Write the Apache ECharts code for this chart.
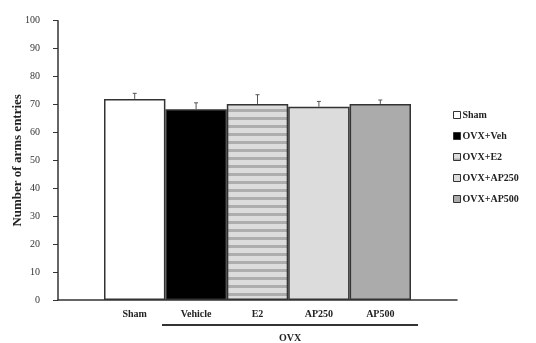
<!DOCTYPE html>
<html>
<head>
<meta charset="utf-8">
<script src="https://cdn.jsdelivr.net/npm/echarts@6/dist/echarts.min.js"></script>
<style>
  html, body { margin: 0; padding: 0; background: #fff; }
  #chart { width: 536px; height: 343px; }
</style>
</head>
<body>
<div id="chart"></div>
<script>
// 数据
const categories = ['Sham', 'Vehicle', 'E2', 'AP250', 'AP500'];
const legendNames = ['Sham', 'OVX+Veh', 'OVX+E2', 'OVX+AP250', 'OVX+AP500'];
const means = [72, 68.3, 70.2, 69.2, 70.2];
const errors = [2.0, 2.3, 3.3, 1.9, 1.4];
const yTicks = { min: 0, max: 100, interval: 10 };

const FONT = 'Liberation Serif';

// 条纹填充 (E2)
function stripePattern() {
    const c = document.createElement('canvas');
    c.width = 4;
    c.height = 8;
    const ctx = c.getContext('2d');
    ctx.fillStyle = '#dcdcdc';
    ctx.fillRect(0, 0, 4, 8);
    ctx.fillStyle = '#adadad';
    ctx.fillRect(0, 5, 4, 3);
    return { image: c, repeat: 'repeat' };
}

const fills = ['#ffffff', '#000000', stripePattern(), '#dcdcdc', '#ababab'];

const chart = echarts.init(document.getElementById('chart'));

const barSeries = legendNames.map((name, i) => ({
    name: name,
    type: 'bar',
    stack: 'all',
    xAxisIndex: 1,
    yAxisIndex: 1,
    barCategoryGap: 0,
    data: means.map((v, j) => (j === i ? v : '-')),
    itemStyle: {
        color: fills[i],
        borderColor: '#333',
        borderWidth: 1.5
    }
}));

// 误差线 (只画上半部分)
const errorSeries = {
    type: 'custom',
    xAxisIndex: 1,
    yAxisIndex: 1,
    silent: true,
    data: means.map((v, i) => [i, v, v + errors[i]]),
    renderItem: function (params, api) {
        const base = api.coord([api.value(0), api.value(1)]);
        const top = api.coord([api.value(0), api.value(2)]);
        return {
            type: 'group',
            children: [
                { type: 'line', shape: { x1: base[0], y1: base[1], x2: top[0], y2: top[1] },
                  style: { stroke: '#555', lineWidth: 1 } },
                { type: 'line', shape: { x1: top[0] - 2, y1: top[1], x2: top[0] + 2, y2: top[1] },
                  style: { stroke: '#555', lineWidth: 1 } }
            ]
        };
    },
    z: 5
};

const option = {
    animation: false,
    backgroundColor: '#fff',
    textStyle: { fontFamily: FONT },
    grid: [
        { left: 58, top: 20.7, width: 399, height: 279.3, outerBoundsMode: 'none' },
        { left: 104, top: 20.7, width: 307, height: 279.3, outerBoundsMode: 'none' }
    ],
    legend: {
        orient: 'vertical',
        left: 448,
        top: 105,
        itemWidth: 7,
        itemHeight: 7,
        itemGap: 11,
        icon: 'rect',
        data: legendNames,
        textStyle: { fontFamily: FONT, fontWeight: 'bold', fontSize: 10, color: '#222', padding: [0, 0, 0, -3] },
        itemStyle: { borderColor: '#333', borderWidth: 1 }
    },
    xAxis: [
        {
            gridIndex: 0,
            type: 'category',
            data: [''],
            axisLine: { lineStyle: { color: '#333', width: 1.5 } },
            axisTick: { show: false },
            axisLabel: { show: false }
        },
        {
            gridIndex: 1,
            type: 'category',
            data: categories,
            axisLine: { show: false },
            axisTick: { show: false },
            axisLabel: { margin: 9, fontFamily: FONT, fontWeight: 'bold', fontSize: 10, color: '#222' }
        }
    ],
    yAxis: [
        {
            gridIndex: 0,
            type: 'value',
            min: yTicks.min,
            max: yTicks.max,
            interval: yTicks.interval,
            name: 'Number of arms entries',
            nameLocation: 'middle',
            nameGap: 34,
            nameMoveOverlap: false,
            nameTextStyle: { fontFamily: FONT, fontWeight: 'bold', fontSize: 13, color: '#222' },
            axisLine: { show: true, lineStyle: { color: '#333', width: 1.5 } },
            axisTick: { show: true, length: 5, lineStyle: { color: '#333' } },
            axisLabel: { margin: 18, fontFamily: FONT, fontSize: 10, color: '#333' },
            splitLine: { show: false }
        },
        {
            gridIndex: 1,
            type: 'value',
            min: yTicks.min,
            max: yTicks.max,
            interval: yTicks.interval,
            show: false,
            splitLine: { show: false }
        }
    ],
    graphic: [
        { type: 'line', shape: { x1: 162, y1: 325, x2: 418, y2: 325 },
          style: { stroke: '#333', lineWidth: 2 } },
        { type: 'text', x: 290, y: 338, style: { text: 'OVX', fontFamily: FONT, fontWeight: 'bold', fontSize: 10,
          fill: '#222', align: 'center', verticalAlign: 'middle' } }
    ],
    series: barSeries.concat([errorSeries])
};

chart.setOption(option);
</script>
</body>
</html>
